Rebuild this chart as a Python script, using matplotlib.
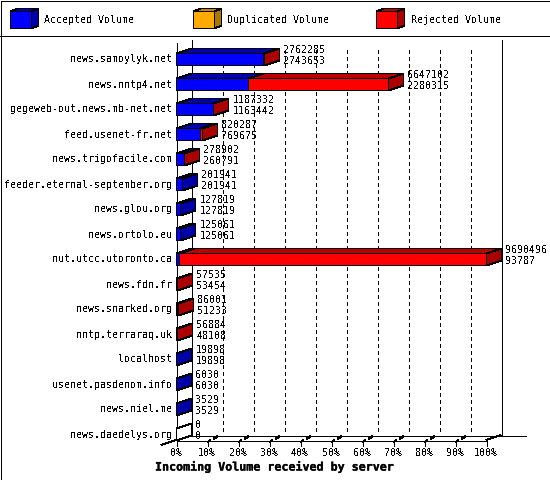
import math
import matplotlib
matplotlib.use("Agg")
import matplotlib.pyplot as plt
import matplotlib.patheffects as pe
from matplotlib.patches import Polygon

plt.rcParams['font.family'] = 'DejaVu Sans Mono'
plt.rcParams['text.antialiased'] = False

servers = ["news.samoylyk.net", "news.nntp4.net", "gegeweb-out.news.mb-net.net",
           "feed.usenet-fr.net", "news.trigofacile.com", "feeder.eternal-september.org",
           "news.glou.org", "news.ortolo.eu", "nut.utcc.utoronto.ca", "news.fdn.fr",
           "news.snarked.org", "nntp.terraraq.uk", "localhost", "usenet.pasdenom.info",
           "news.niel.me", "news.daedelys.org"]
total = [2762285, 6647102, 1187332, 820287, 278902, 201941, 127819, 125061,
         9690496, 57535, 86001, 56884, 19898, 6030, 3529, 0]
accepted = [2743653, 2280315, 1163442, 769675, 260791, 201941, 127819, 125061,
            93787, 53454, 51233, 48108, 19898, 6030, 3529, 0]
pct_ticks = [0, 10, 20, 30, 40, 50, 60, 70, 80, 90, 100]
legend_names = ["Accepted Volume", "Duplicated Volume", "Rejected Volume"]

BLUE = ("#0000ff", "#0000aa", "#0000aa")
ORANGE = ("#ffaa00", "#c68400", "#aa7700")
RED = ("#ff0000", "#bb0000", "#aa0000")
LW = 0.72

x0, x100 = 176, 486
dx, dy = 15, 5
floor = 440

fig = plt.figure(figsize=(5.5, 4.8), dpi=100)
ax = fig.add_axes([0, 0, 1, 1])
ax.set_xlim(0, 550)
ax.set_ylim(480, 0)
ax.axis("off")


def line(xs, ys, **kw):
    kw.setdefault("color", "k")
    kw.setdefault("lw", LW)
    ax.plot(xs, ys, antialiased=False, solid_capstyle="butt", dash_capstyle="butt", **kw)


def box(x1, x2, top, h, colors, ddx=dx, ddy=dy, z=3):
    # front, top and right side of a 3d bar
    bot = top + h
    faces = [([(x1, top), (x2, top), (x2, bot), (x1, bot)], colors[0]),
             ([(x1, top), (x1 + ddx, top - ddy), (x2 + ddx, top - ddy), (x2, top)], colors[1]),
             ([(x2, top), (x2 + ddx, top - ddy), (x2 + ddx, bot - ddy), (x2, bot)], colors[2])]
    for pts, c in faces:
        ax.add_patch(Polygon(pts, closed=True, facecolor=c, edgecolor="k", lw=LW,
                             antialiased=False, snap=False, zorder=z))


def to_x(pct):
    return x0 + (x100 - x0) * pct / 100.0


def px(v):
    return math.floor(v) + .5


# frame and legend
ax.add_patch(plt.Rectangle((0.5, 0.5), 549, 479, fill=False, edgecolor="k", lw=LW, antialiased=False))
line([0, 550], [35.5, 35.5])
for name, colors, lx, tx in zip(legend_names, [BLUE, ORANGE, RED], [10.5, 193.5, 376.5], [44, 227, 411]):
    box(lx, lx + 21, 11.5, 17, colors, ddx=7, ddy=3)
    ax.text(tx, 20, name, fontsize=7.2, va="center", ha="left")

# walls, floor and grid
line([x0 + .5, x0 + .5], [43, floor + .5])
line([x0 + dx + .5, x0 + dx + .5], [40, floor - dy + .5])
line([x100 + dx + .5, x100 + dx + .5], [40, floor - dy + .5])
line([x0 + .5, x100 + .5], [floor + .5, floor + .5])
line([x0 + dx + .5, 526], [floor - dy + .5, floor - dy + .5])
line([x0 - 15, x0 + dx], [floor + 5, floor - dy])
line([x100, x100 + dx], [floor, floor - dy])
for p in pct_ticks:
    fx = to_x(p) + .5
    line([fx, fx], [floor, floor + 6])
    if 0 < p < 100:
        line([fx + dx, fx + dx], [50, floor - dy], linestyle=(0, (4, 4)))
        line([fx, fx + 3], [floor + 2, floor])
        line([fx + 6, fx + 10], [floor - 1.5, floor - 3.5], lw=1.4)
    ax.text(to_x(p) - (0.5 if p == 100 else 0), 453, "%d%%" % p, fontsize=7.2, ha="center", va="center")

# bars
top_val = max(total)
for i, name in enumerate(servers):
    top = 53 + 25 * i + .5
    a_end = px(to_x(100.0 * accepted[i] / top_val))
    t_end = px(to_x(100.0 * total[i] / top_val))
    if total[i] == 0:
        box(x0 + .5, x0 + .5, top, 12, ("white", "white", "white"))
    else:
        box(x0 + .5, a_end, top, 12, BLUE)
        if total[i] > accepted[i]:
            box(a_end, t_end, top, 12, RED)
    ax.text(172, top + 6, name, fontsize=7.2, ha="right", va="center")
    ax.text(t_end + dx + 4, top - 3.5, str(total[i]), fontsize=7.2, ha="left", va="center", zorder=5)
    ax.text(t_end + dx + 4, top + 7.5, str(accepted[i]), fontsize=7.2, ha="left", va="center", zorder=5)

ax.text(274, 467, "Incoming Volume received by server", fontsize=8.4, fontweight="bold",
        ha="center", va="center", antialiased=True,
        path_effects=[pe.withStroke(linewidth=0.2, foreground="k")])

fig.savefig("out.png", dpi=100)
